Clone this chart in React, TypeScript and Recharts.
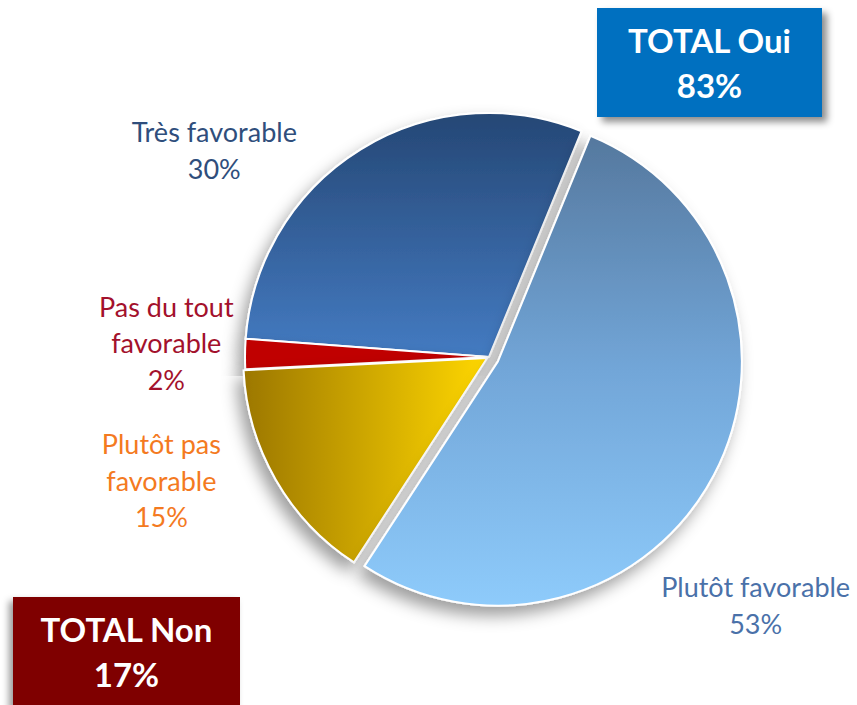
import React from 'react';
import { PieChart, Pie, Cell, Sector } from 'recharts';

const categories = ['Très favorable', 'Pas du tout favorable', 'Plutôt pas favorable', 'Plutôt favorable'];
const values = [30, 2, 15, 53];
const labelLines = [
  ['Très favorable', '30%'],
  ['Pas du tout', 'favorable', '2%'],
  ['Plutôt pas', 'favorable', '15%'],
  ['Plutôt favorable', '53%'],
];
const totalOui = ['TOTAL Oui', '83%'];
const totalNon = ['TOTAL Non', '17%'];

const fills = ['url(#gTres)', '#c00000', 'url(#gPasFav)', 'url(#gPlutotFav)'];
const labelColors = ['#2f4e7c', '#a3112c', '#f47a1f', '#4a71a9'];
// label placement: [angle (deg, ccw), radius]
const labelPlace: [number, number][] = [
  [143.0, 344],
  [177.5, 323],
  [200.6, 350],
  [317.1, 364],
];
const explode = [0, 0, 2, 10];

const data = categories.map((name, i) => ({ name, value: values[i] }));

const CX = 489;
const CY = 357;
const RAD = Math.PI / 180;
const FONT = 'Lato, "Open Sans", sans-serif';

const renderShape = (props: any) => {
  const idx = categories.indexOf(props.name ?? props.payload?.name);
  const off = explode[idx] || 0;
  const dx = Math.cos(-props.midAngle * RAD) * off;
  const dy = Math.sin(-props.midAngle * RAD) * off;
  return (
    <Sector
      {...props}
      cx={props.cx + dx}
      cy={props.cy + dy}
      fill={fills[idx]}
      stroke="#ffffff"
      strokeWidth={2}
    />
  );
};

const renderLabel = (props: any) => {
  const idx = props.index;
  const [ang, r] = labelPlace[idx];
  const cx = props.cx ?? CX;
  const cy = props.cy ?? CY;
  const x = cx + Math.cos(ang * RAD) * r;
  const y = cy - Math.sin(ang * RAD) * r;
  const lines = labelLines[idx];
  const lh = 36.5;
  return (
    <g key={'lbl' + idx}>
      {lines.map((t, i) => (
        <text
          key={i}
          x={x}
          y={y + (i - (lines.length - 1) / 2) * lh}
          textAnchor="middle"
          dominantBaseline="central"
          fill={labelColors[idx]}
          fontSize={27}
          fontFamily={FONT}
        >
          {t}
        </text>
      ))}
    </g>
  );
};

const boxText: React.CSSProperties = {
  color: '#ffffff',
  fontFamily: FONT,
  fontWeight: 700,
  fontSize: 33,
  lineHeight: '45px',
  textAlign: 'center',
};

export default function App() {
  return (
    <div style={{ position: 'absolute', left: 0, top: 0, width: 857, height: 705, background: '#ffffff', overflow: 'hidden' }}>
      <svg width={0} height={0} style={{ position: 'absolute' }}>
        <defs>
          <linearGradient id="gTres" x1="0" y1="0" x2="0" y2="1">
            <stop offset="0%" stopColor="#254775" />
            <stop offset="100%" stopColor="#447bc2" />
          </linearGradient>
          <linearGradient id="gPlutotFav" x1="0" y1="0" x2="0" y2="1">
            <stop offset="0%" stopColor="#55789e" />
            <stop offset="50%" stopColor="#72a6d8" />
            <stop offset="100%" stopColor="#8ecbfb" />
          </linearGradient>
          <linearGradient id="gPasFav" x1="0" y1="0" x2="1" y2="0">
            <stop offset="0%" stopColor="#9c7700" />
            <stop offset="100%" stopColor="#ffd700" />
          </linearGradient>
          <filter id="pieShadow" x="-20%" y="-20%" width="140%" height="140%">
            <feDropShadow dx={-6} dy={9} stdDeviation={8} floodColor="#000000" floodOpacity={0.38} />
          </filter>
        </defs>
      </svg>
      <div style={{ position: 'absolute', left: 0, top: 0 }}>
        <PieChart width={857} height={705} margin={{ top: 0, right: 0, bottom: 0, left: 0 }}>
          <Pie
            data={data}
            dataKey="value"
            nameKey="name"
            cx={CX}
            cy={CY}
            outerRadius={244}
            startAngle={67.7}
            endAngle={427.7}
            isAnimationActive={false}
            shape={renderShape}
            label={renderLabel}
            labelLine={false}
            style={{ filter: 'url(#pieShadow)' }}
          >
            {data.map((d, i) => (
              <Cell key={d.name} fill={fills[i]} stroke="#ffffff" strokeWidth={2} />
            ))}
          </Pie>
        </PieChart>
      </div>
      <div
        style={{
          position: 'absolute', left: 597, top: 8, width: 225, height: 109, background: '#0070c0',
          boxShadow: '5px 5px 7px rgba(0,0,0,0.45)', display: 'flex', flexDirection: 'column',
          justifyContent: 'center', ...boxText,
        }}
      >
        {totalOui.map((t) => <div key={t}>{t}</div>)}
      </div>
      <div
        style={{
          position: 'absolute', left: 13, top: 597, width: 227, height: 110, background: '#7f0000',
          boxShadow: '-4px 4px 7px rgba(0,0,0,0.4)', display: 'flex', flexDirection: 'column',
          justifyContent: 'center', ...boxText,
        }}
      >
        {totalNon.map((t) => <div key={t}>{t}</div>)}
      </div>
    </div>
  );
}
